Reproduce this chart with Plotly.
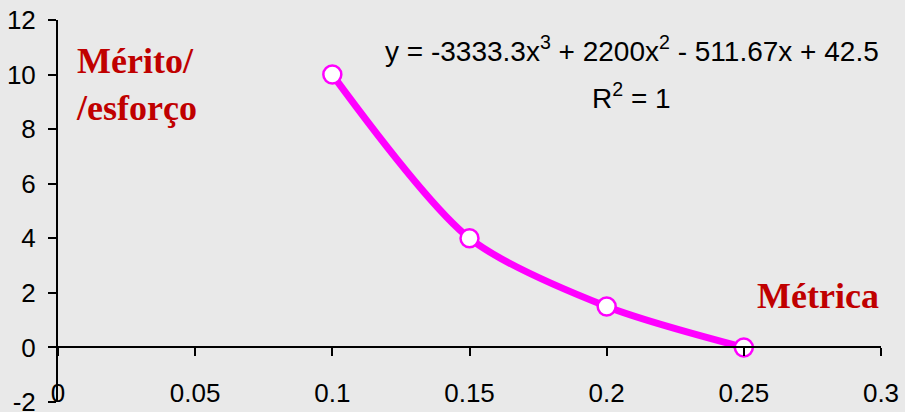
import plotly.graph_objects as go

# data
metrica = [0.10, 0.15, 0.20, 0.25]
merito = [10.0, 4.0, 1.5, 0.0]

x_tickvals = [0, 0.05, 0.10, 0.15, 0.20, 0.25, 0.30]
x_ticktext = ["0", "0.05", "0.1", "0.15", "0.2", "0.25", "0.3"]
y_tickvals = [-2, 0, 2, 4, 6, 8, 10, 12]
y_ticktext = ["-2", "0", "2", "4", "6", "8", "10", "12"]

equation = "y = -3333.3x<sup>3</sup> + 2200x<sup>2</sup> - 511.67x + 42.5"
r2_text = "R<sup>2</sup> = 1"

BG = "#e9e9e9"
MAG = "#ff00ff"
RED = "#c00000"
SANS = "Liberation Sans, Arial, sans-serif"
SERIF = "Liberation Serif, Times New Roman, serif"

fig = go.Figure()
fig.add_trace(go.Scatter(
    x=metrica, y=merito, mode="lines",
    line=dict(color=MAG, width=7, shape="spline", smoothing=0.8),
    hoverinfo="skip", showlegend=False))
fig.add_trace(go.Scatter(
    x=metrica, y=merito, mode="markers",
    marker=dict(symbol="circle", size=18, color="white",
                line=dict(color=MAG, width=2.5)),
    showlegend=False))

fig.update_layout(
    width=905, height=412,
    margin=dict(l=58, r=24, t=20, b=10, autoexpand=False),
    paper_bgcolor=BG, plot_bgcolor=BG,
    font=dict(family=SANS, size=25, color="black"),
    xaxis=dict(range=[0, 0.3], tickvals=x_tickvals, ticktext=x_ticktext,
               showgrid=False, zeroline=False, showline=True,
               linecolor="black", linewidth=2,
               ticks="outside", ticklen=8, tickwidth=2, tickcolor="black",
               anchor="free", position=2/14, ticklabelstandoff=14,
               automargin=False, ticklabeloverflow="allow",
               tickfont=dict(family=SANS, size=26)),
    yaxis=dict(range=[-2, 12], tickvals=y_tickvals, ticktext=y_ticktext,
               showgrid=False, zeroline=False, showline=True,
               linecolor="black", linewidth=2,
               ticks="outside", ticklen=8, tickwidth=2, tickcolor="black",
               ticklabelstandoff=7, automargin=False,
               ticklabeloverflow="allow",
               tickfont=dict(family=SANS, size=26)),
    annotations=[
        dict(text=equation, xref="paper", yref="paper", x=0.697, y=0.923,
             xanchor="center", yanchor="middle", showarrow=False,
             font=dict(family=SANS, size=28, color="black")),
        dict(text=r2_text, xref="paper", yref="paper", x=0.697, y=0.80,
             xanchor="center", yanchor="middle", showarrow=False,
             font=dict(family=SANS, size=28, color="black")),
        dict(text="<b>Mérito/</b><br><b>/esforço</b>", xref="paper", yref="paper",
             x=0.019, y=0.949, xanchor="left", yanchor="top", align="left",
             showarrow=False, font=dict(family=SERIF, size=36, color=RED)),
        dict(text="<b>Métrica</b>", xref="paper", yref="paper",
             x=1.0, y=0.277, xanchor="right", yanchor="middle",
             showarrow=False, font=dict(family=SERIF, size=36, color=RED)),
    ],
)

post = ("document.body.style.margin='0';"
        "document.body.style.padding='0';"
        "document.body.style.background='%s';"
        "document.documentElement.style.background='%s';"
        "document.body.style.overflow='hidden';") % (BG, BG)
fig.write_html("out.html", post_script=post,
               config={"displayModeBar": False, "staticPlot": True})
